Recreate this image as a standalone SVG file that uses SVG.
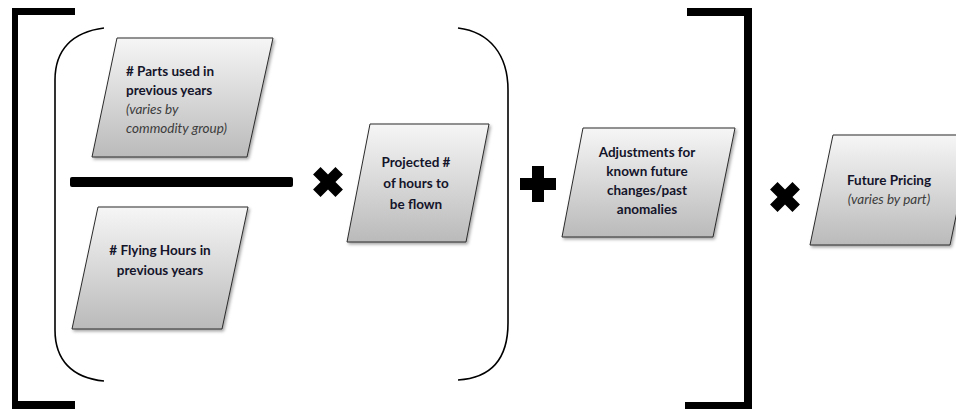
<svg xmlns="http://www.w3.org/2000/svg" width="956" height="409" viewBox="0 0 956 409">
<style>
.box{fill:url(#g);stroke:#2b2b2b;stroke-width:1;filter:url(#sh)}
.t{font-family:Lato,"Open Sans","Liberation Sans",sans-serif;font-size:13.5px;font-weight:bold;fill:#14142a}
.i{font-family:Lato,"Open Sans","Liberation Sans",sans-serif;font-size:13.5px;font-style:italic;fill:#3c3c3c}
.br{fill:#000}
.par{fill:none;stroke:#000;stroke-width:1.6}
</style>
<defs>
<linearGradient id="g" x1="0" y1="0" x2="0" y2="1">
<stop offset="0" stop-color="#f6f6f6"/>
<stop offset="1" stop-color="#bababa"/>
</linearGradient>
<filter id="sh" x="-10%" y="-10%" width="130%" height="130%">
<feDropShadow dx="1.5" dy="2" stdDeviation="1.5" flood-color="#000" flood-opacity="0.35"/>
</filter>
<path id="cross" d="M-6,-18 H6 V-6 H18 V6 H6 V18 H-6 V6 H-18 V-6 H-6 Z"/>
</defs>
<g id="decorations">
<path class="br" d="M12,8 H75 V15 H18 V401 H75 V409 H12 Z"/>
<path class="br" d="M687,8 H752 V409 H685 V402 H744 V16 H687 Z"/>
<path class="par" d="M104,28 C72,32 55,50 55,80 L55,330 C55,360 72,378 104,381"/>
<path class="par" d="M458,28 C490,32 508,55 508,90 L508,323 C508,360 490,378 458,380"/>
<rect class="br" x="70" y="177" width="223" height="10" rx="2"/>
<use href="#cross" transform="translate(328,182) rotate(45) scale(0.88)" class="br"/>
<use href="#cross" transform="translate(538,184)" class="br"/>
<use href="#cross" transform="translate(785,197) rotate(45) scale(0.88)" class="br"/>
</g>
<g id="connectors"></g>
<g id="parts">
<polygon class="box" points="117,38 273,38 247,157 92,157"/>
<text class="t" x="126" y="76">#&#160;Parts used in</text>
<text class="t" x="126" y="95">previous years</text>
<text class="i" x="126" y="114">(varies by</text>
<text class="i" x="126" y="133">commodity group)</text>
</g>
<g id="flying">
<polygon class="box" points="98,207 248,207 222,329 72,329"/>
<text class="t" x="160" y="255" text-anchor="middle">#&#160;Flying Hours in</text>
<text class="t" x="160" y="275" text-anchor="middle">previous years</text>
</g>
<g id="projected">
<polygon class="box" points="370,124 489,124 466,242 347,242"/>
<text class="t" x="416" y="167" text-anchor="middle">Projected #</text>
<text class="t" x="416" y="188" text-anchor="middle">of hours to</text>
<text class="t" x="416" y="209" text-anchor="middle">be flown</text>
</g>
<g id="adjustments">
<polygon class="box" points="583,128 735,128 713,237 562,237"/>
<text class="t" x="647" y="157" text-anchor="middle">Adjustments for</text>
<text class="t" x="647" y="176" text-anchor="middle">known future</text>
<text class="t" x="647" y="195" text-anchor="middle">changes/past</text>
<text class="t" x="647" y="214" text-anchor="middle">anomalies</text>
</g>
<g id="pricing">
<polygon class="box" points="833,135 973,135 950,245 810,245"/>
<text class="t" x="889" y="185" text-anchor="middle">Future Pricing</text>
<text class="i" x="889" y="204" text-anchor="middle">(varies by part)</text>
</g>
</svg>
